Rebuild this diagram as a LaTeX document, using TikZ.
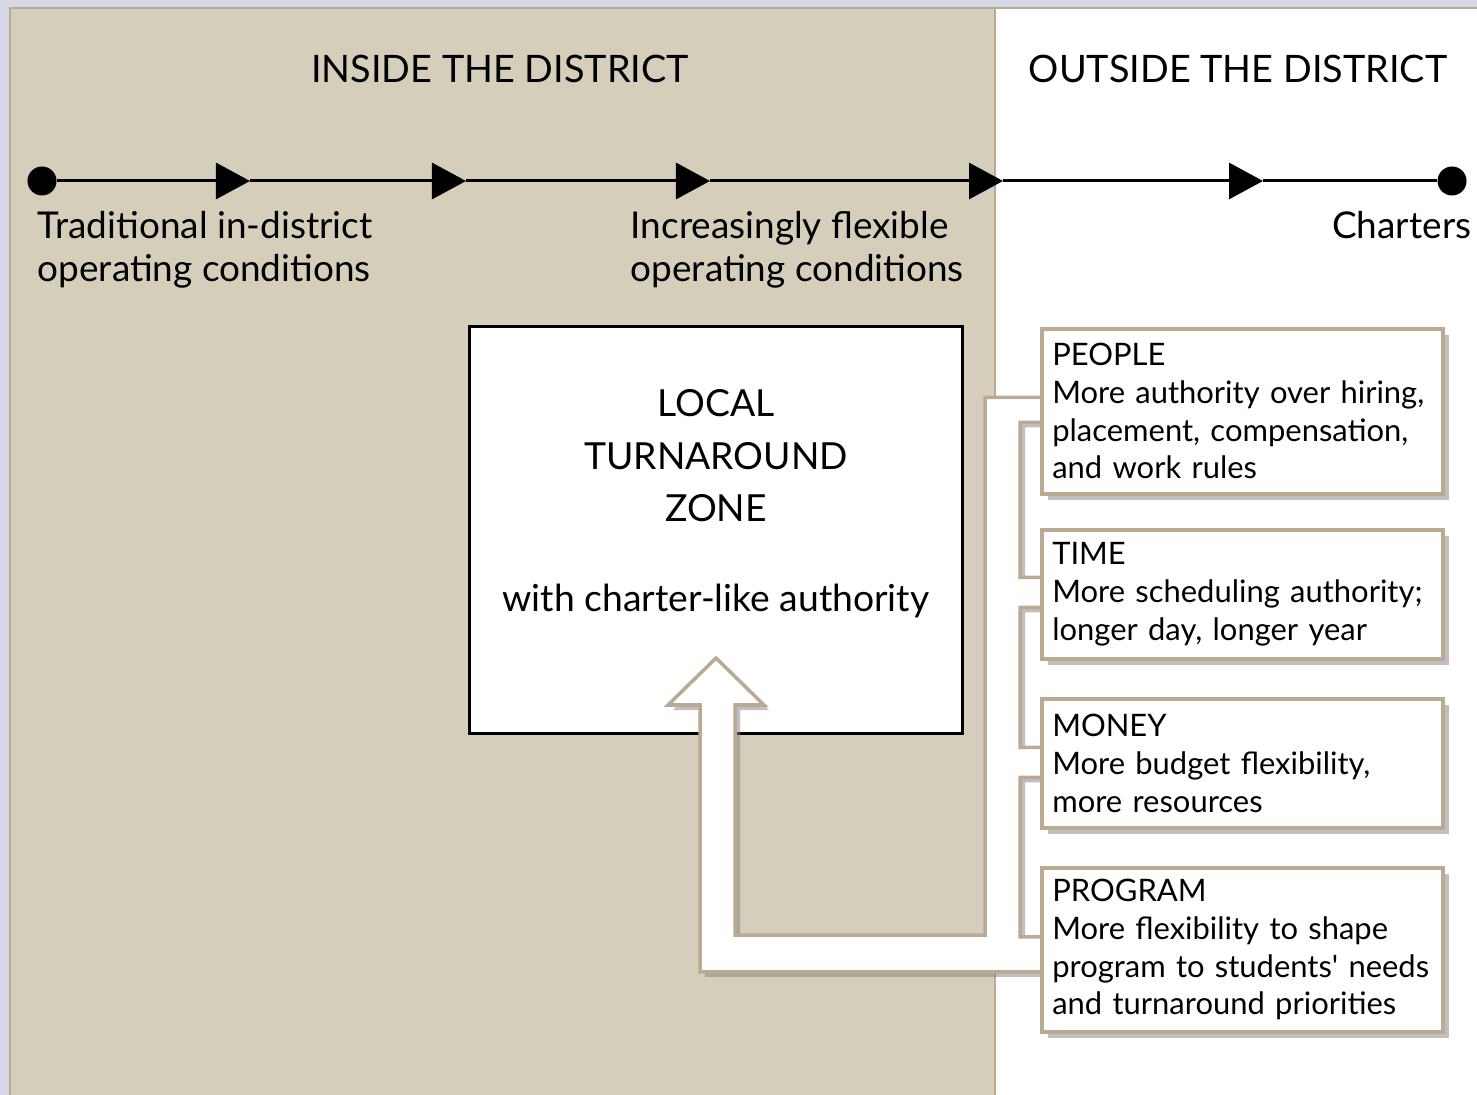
\documentclass[tikz,border=0pt]{standalone}
\usepackage{fontspec}
\setmainfont{Lato}
\usetikzlibrary{shapes,calc,arrows.meta,shadows}

\definecolor{tanbg}{RGB}{212,206,186}
\definecolor{tanline}{RGB}{186,170,148}
\definecolor{lavender}{RGB}{214,216,231}

\pgfdeclarelayer{back}
\pgfdeclarelayer{mid}
\pgfsetlayers{back,mid,main}

\begin{document}
\begin{tikzpicture}[x=0.01cm,y=-0.01cm,every text node part/.style={align=left}]
  \tikzstyle{dot}=[circle,fill=black,minimum size=2.9mm,inner sep=0pt]
  \tikzstyle{axis}=[line width=0.85pt,-{Triangle[length=3.4mm,width=3.6mm]}]
  \tikzstyle{head}=[font=\fontsize{10.75}{13}\selectfont,inner sep=0pt]
  \tikzstyle{stage}=[font=\fontsize{10.5}{12}\selectfont,inner sep=0pt]
  \tikzstyle{zonetext}=[font=\fontsize{10.6}{14.9}\selectfont,inner sep=0pt,
    every text node part/.style={align=center}]
  \tikzstyle{zone}=[rectangle,draw=black,fill=white,line width=0.85pt,
    minimum width=4.92cm,minimum height=4.06cm]
  \tikzstyle{panel}=[rectangle,draw=tanline,fill=white,line width=1pt,
    anchor=north west,text width=3.8cm,inner xsep=1.05mm,inner ysep=0pt,
    font=\fontsize{8.8}{10.7}\selectfont,
    drop shadow={shadow xshift=0.6mm,shadow yshift=-0.6mm,opacity=0.5}]
  \tikzstyle{pipe}=[draw=tanline,fill=white,line width=1pt,
    drop shadow={shadow xshift=0.5mm,shadow yshift=-0.5mm,opacity=0.5}]

  \useasboundingbox (0,0) rectangle (1477,1095);
  \begin{pgfonlayer}{back}
  \fill[lavender] (0,0) rectangle (1477,1095);
  \filldraw[fill=tanbg,draw=tanline,line width=0.6pt] (10,8) rectangle (995,1110);
  \filldraw[fill=white,draw=tanline,line width=0.6pt] (995,8) rectangle (1490,1110);

  \node[head] (inside) at (500,69) {INSIDE THE DISTRICT};
  \node[head] (outside) at (1238,69) {OUTSIDE THE DISTRICT};

  \node[dot] (start) at (42,181) {};
  \node[dot] (charter) at (1452,181) {};
  \coordinate (tip1) at (250,181);
  \coordinate (tip2) at (466,181);
  \coordinate (tip3) at (710,181);
  \coordinate (tip4) at (1003,181);
  \coordinate (tip5) at (1263,181);
  \draw[axis] (start) -- (tip1);
  \draw[axis] (tip1) -- (tip2);
  \draw[axis] (tip2) -- (tip3);
  \draw[axis] (tip3) -- (tip4);
  \draw[axis] (tip4) -- (tip5);
  \draw[line width=0.85pt] (tip5) -- (charter);

  \node[stage,anchor=north west] (trad) at (37,211) {Traditional in-district\\operating conditions};
  \node[stage,anchor=north west] (flex) at (630,211) {Increasingly flexible\\operating conditions};
  \node[stage,anchor=north east] (charters) at (1472,211) {Charters};

  \node[zone] (ltz) at (716,530) {};
  \node[zonetext] (ltztitle) at (716,456) {LOCAL\\TURNAROUND\\ZONE};
  \node[zonetext] (ltzsub) at (716,601) {with charter-like authority};
  \end{pgfonlayer}

  \node[panel,minimum height=1.65cm] (people) at (1040,327) {PEOPLE\\More authority over hiring,\\placement, compensation,\\and work rules};
  \node[panel,minimum height=1.29cm] (time) at (1040,528) {TIME\\More scheduling authority;\\longer day, longer year};
  \node[panel,minimum height=1.29cm] (money) at (1040,697) {MONEY\\More budget flexibility,\\more resources};
  \node[panel,minimum height=1.64cm] (program) at (1040,866) {PROGRAM\\More flexibility to shape\\program to students\textquotesingle\ needs\\and turnaround priorities};

  \begin{pgfonlayer}{mid}
  \draw[pipe] ($(people.west)+(6,-14)$) -| (985,935) -| (735,705) -- (764,705)
    -- (716,658) -- (668,705) -- (700,705) |- ($(program.west)+(6,22)$)
    -- ($(program.west)+(6,-13)$) -| ($(money.west)+(-20,14)$) -- ($(money.west)+(6,14)$)
    -- ($(money.west)+(6,-16)$) -| ($(time.west)+(-20,13)$) -- ($(time.west)+(6,13)$)
    -- ($(time.west)+(6,-17)$) -| ($(people.west)+(-20,11)$) -- ($(people.west)+(6,11)$)
    -- cycle;
  \end{pgfonlayer}
\end{tikzpicture}
\end{document}
